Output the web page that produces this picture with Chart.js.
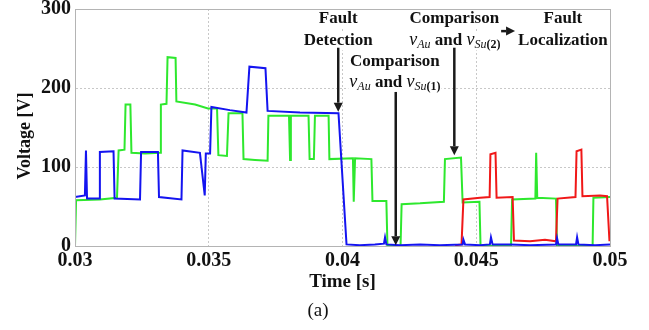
<!DOCTYPE html>
<html>
<head>
<meta charset="utf-8">
<script src="https://cdn.jsdelivr.net/npm/chart.js@4.4.1/dist/chart.umd.min.js"></script>
<style>
  html, body { margin: 0; padding: 0; background: #fff; }
</style>
</head>
<body>
<canvas id="fig" width="649" height="330"></canvas>
<script>
// axis ticks
const timeTicks = [0.03, 0.035, 0.04, 0.045, 0.05];
const voltTicks = [0, 100, 200, 300];

// green trace
const greenT = [0.03000,0.03004,0.03093,0.03157,0.03163,0.03185,0.03189,0.03207,0.03211,0.03262,
  0.03318,0.03321,0.03342,0.03346,0.03376,0.03379,0.03449,0.03497,0.03531,0.03536,
  0.03568,0.03574,0.03626,0.03630,0.03673,0.03720,0.03723,0.03800,0.03804,0.03807,
  0.03873,0.03877,0.03893,0.03897,0.03948,0.03951,0.04039,0.04042,0.04047,0.04108,
  0.04112,0.04164,0.04168,0.04217,0.04221,0.04290,0.04379,0.04383,0.04443,0.04449,
  0.04512,0.04516,0.04630,0.04634,0.04721,0.04724,0.04728,0.04798,0.04802,0.04935,
  0.04938,0.05000];
const greenV = [0,58,59,61,121,122,179,179,118,117,
  118,179,180,239,238,183,179,174,174,115,
  114,168,168,110,109,108,165,165,109,165,
  165,110,110,165,165,110,111,56,111,110,
  57,57,0,0,53,54,56,110,112,55,
  56,0,0,59,60,118,61,60,0,0,
  61,62];

// blue trace
const blueT = [0.03000,0.03037,0.03041,0.03045,0.03090,0.03093,0.03144,0.03148,0.03243,0.03247,
  0.03310,0.03314,0.03398,0.03402,0.03467,0.03485,0.03489,0.03505,0.03510,0.03579,
  0.03641,0.03652,0.03712,0.03720,0.03841,0.03985,0.04015,0.04065,0.04121,0.04155,
  0.04159,0.04164,0.04215,0.04290,0.04364,0.04449,0.04452,0.04458,0.04514,0.04551,
  0.04555,0.04561,0.04626,0.04701,0.04798,0.04802,0.04807,0.04873,0.04877,0.04882,
  0.04944,0.05000];
const blueV = [62,64,121,60,60,119,120,60,59,119,
  119,62,59,121,118,64,117,117,176,172,
  169,227,225,171,169,168,2,1,2,3,
  11,2,1,2,1,2,8,2,1,2,
  11,2,2,1,2,10,2,2,11,2,
  1,2];

// red trace
const redT = [0.04421,0.04445,0.04452,0.04514,0.04550,0.04553,0.04572,0.04576,0.04636,0.04641,
  0.04701,0.04757,0.04798,0.04804,0.04871,0.04875,0.04893,0.04897,0.04963,0.04989,0.04998];
const redV = [1,2,59,61,62,116,118,61,62,7,
  6,8,6,60,62,120,122,63,64,63,6];

const serif = "'Liberation Serif', 'Times New Roman', serif";

function toPoints(ts, vs) {
  return ts.map((t, i) => ({ x: t, y: vs[i] }));
}

// annotation text, in axis units (time, voltage of the baseline)
const notes = [
  { t: 0.03984, v: 282, parts: [['Fault', 'b']] },
  { t: 0.03984, v: 254, parts: [['Detection', 'b']] },
  { t: 0.04196, v: 228, parts: [['Comparison', 'b']] },
  { t: 0.04196, v: 201, parts: [['v', 'i'], ['Au', 'si'], [' and ', 'b'], ['v', 'i'], ['Su', 'si'], ['(1)', 'sb']] },
  { t: 0.04418, v: 282, parts: [['Comparison', 'b']] },
  { t: 0.04420, v: 254, parts: [['v', 'i'], ['Au', 'si'], [' and ', 'b'], ['v', 'i'], ['Su', 'si'], ['(2)', 'sb']] },
  { t: 0.04824, v: 282, parts: [['Fault', 'b']] },
  { t: 0.04824, v: 254, parts: [['Localization', 'b']] }
];
// arrows: from (t1,v1) to (t2,v2)
const arrows = [
  [0.03984, 251, 0.03984, 170],
  [0.04199, 195, 0.04199, 1],
  [0.04418, 251, 0.04418, 115],
  [0.04593, 272, 0.04645, 272]
];

const fonts = {
  b: 'bold 17px ' + serif,
  i: 'italic 18px ' + serif,
  si: 'italic 12px ' + serif,
  sb: 'bold 12px ' + serif
};

function drawArrow(ctx, x1, y1, x2, y2) {
  const a = Math.atan2(y2 - y1, x2 - x1);
  const hl = 9, hw = 4.5;
  const c = Math.cos(a), s = Math.sin(a);
  ctx.beginPath();
  ctx.moveTo(x1, y1);
  ctx.lineTo(x2 - hl * c, y2 - hl * s);
  ctx.stroke();
  ctx.beginPath();
  ctx.moveTo(x2, y2);
  ctx.lineTo(x2 - hl * c + hw * s, y2 - hl * s - hw * c);
  ctx.lineTo(x2 - hl * c - hw * s, y2 - hl * s + hw * c);
  ctx.closePath();
  ctx.fill();
}

const figPlugin = {
  id: 'figPlugin',
  afterDatasetsDraw(chart) {
    const { ctx, chartArea: a } = chart;
    const xs = chart.scales.x, ys = chart.scales.y;
    ctx.save();
    // text
    notes.forEach(n => {
      let w = 0;
      n.parts.forEach(p => { ctx.font = fonts[p[1]]; w += ctx.measureText(p[0]).width; });
      let x = xs.getPixelForValue(n.t) - w / 2;
      const y = ys.getPixelForValue(n.v);
      ctx.fillStyle = '#fff';
      ctx.fillRect(x - 1, y - 14, w + 2, 19);
      ctx.fillStyle = '#111';
      ctx.textAlign = 'left';
      ctx.textBaseline = 'alphabetic';
      n.parts.forEach(p => {
        ctx.font = fonts[p[1]];
        const dy = p[1].startsWith('s') ? 3 : 0;
        ctx.fillText(p[0], x, y + dy);
        x += ctx.measureText(p[0]).width;
      });
    });
    // arrows
    ctx.strokeStyle = '#1a1a1a';
    ctx.fillStyle = '#1a1a1a';
    ctx.lineWidth = 2.5;
    arrows.forEach(r => {
      drawArrow(ctx, xs.getPixelForValue(r[0]), ys.getPixelForValue(r[1]),
        xs.getPixelForValue(r[2]), ys.getPixelForValue(r[3]));
    });
    // axes box
    ctx.strokeStyle = '#b4b4b4';
    ctx.lineWidth = 1;
    ctx.strokeRect(a.left + 0.5, a.top + 0.5, a.right - a.left, a.bottom - a.top);
    // y axis title
    ctx.save();
    ctx.translate(25, 136);
    ctx.rotate(-Math.PI / 2);
    ctx.font = 'bold 18px ' + serif;
    ctx.fillStyle = '#111';
    ctx.textAlign = 'center';
    ctx.textBaseline = 'middle';
    ctx.fillText('Voltage [V]', 0, 0);
    ctx.restore();
    // sub-figure caption
    ctx.font = '19px ' + serif;
    ctx.fillStyle = '#111';
    ctx.textAlign = 'center';
    ctx.textBaseline = 'middle';
    ctx.fillText('(a)', 318, 311);
    ctx.restore();
  }
};

const chart = new Chart(document.getElementById('fig'), {
  type: 'line',
  data: {
    datasets: [
      { data: toPoints(blueT, blueV), borderColor: '#1414f0', borderWidth: 2 },
      { data: toPoints(redT, redV), borderColor: '#f01818', borderWidth: 2 },
      { data: toPoints(greenT, greenV), borderColor: '#2ee82e', borderWidth: 2 }
    ]
  },
  options: {
    responsive: false,
    animation: false,
    devicePixelRatio: 1,
    layout: { autoPadding: false, padding: { left: 0, right: 39, top: 9, bottom: 0 } },
    elements: { point: { radius: 0 }, line: { tension: 0 } },
    plugins: { legend: { display: false }, tooltip: { enabled: false } },
    scales: {
      x: {
        type: 'linear',
        min: 0.03,
        max: 0.05,
        afterBuildTicks: s => { s.ticks = timeTicks.map(v => ({ value: v })); },
        afterFit: s => { s.height = 84; s.paddingLeft = 0; s.paddingRight = 0; },
        ticks: {
          autoSkip: false,
          maxRotation: 0,
          padding: 3,
          color: '#111',
          font: { family: serif, size: 20, weight: 'bold' },
          callback: v => String(+v.toFixed(3))
        },
        grid: { color: '#c8c8c8', drawTicks: false },
        border: { color: '#b4b4b4', dash: [2, 2] },
        title: {
          display: true,
          text: 'Time [s]',
          color: '#111',
          font: { family: serif, size: 19, weight: 'bold' },
          padding: { top: 0, bottom: 37 }
        }
      },
      y: {
        min: 0,
        max: 300,
        afterBuildTicks: s => { s.ticks = voltTicks.map(v => ({ value: v })); },
        afterFit: s => { s.width = 75; s.paddingTop = 0; s.paddingBottom = 0; },
        ticks: {
          padding: 4,
          color: '#111',
          font: { family: serif, size: 20, weight: 'bold' }
        },
        grid: { color: '#c8c8c8', drawTicks: false },
        border: { color: '#b4b4b4', dash: [2, 2] }
      }
    }
  },
  plugins: [figPlugin]
});
</script>
</body>
</html>
